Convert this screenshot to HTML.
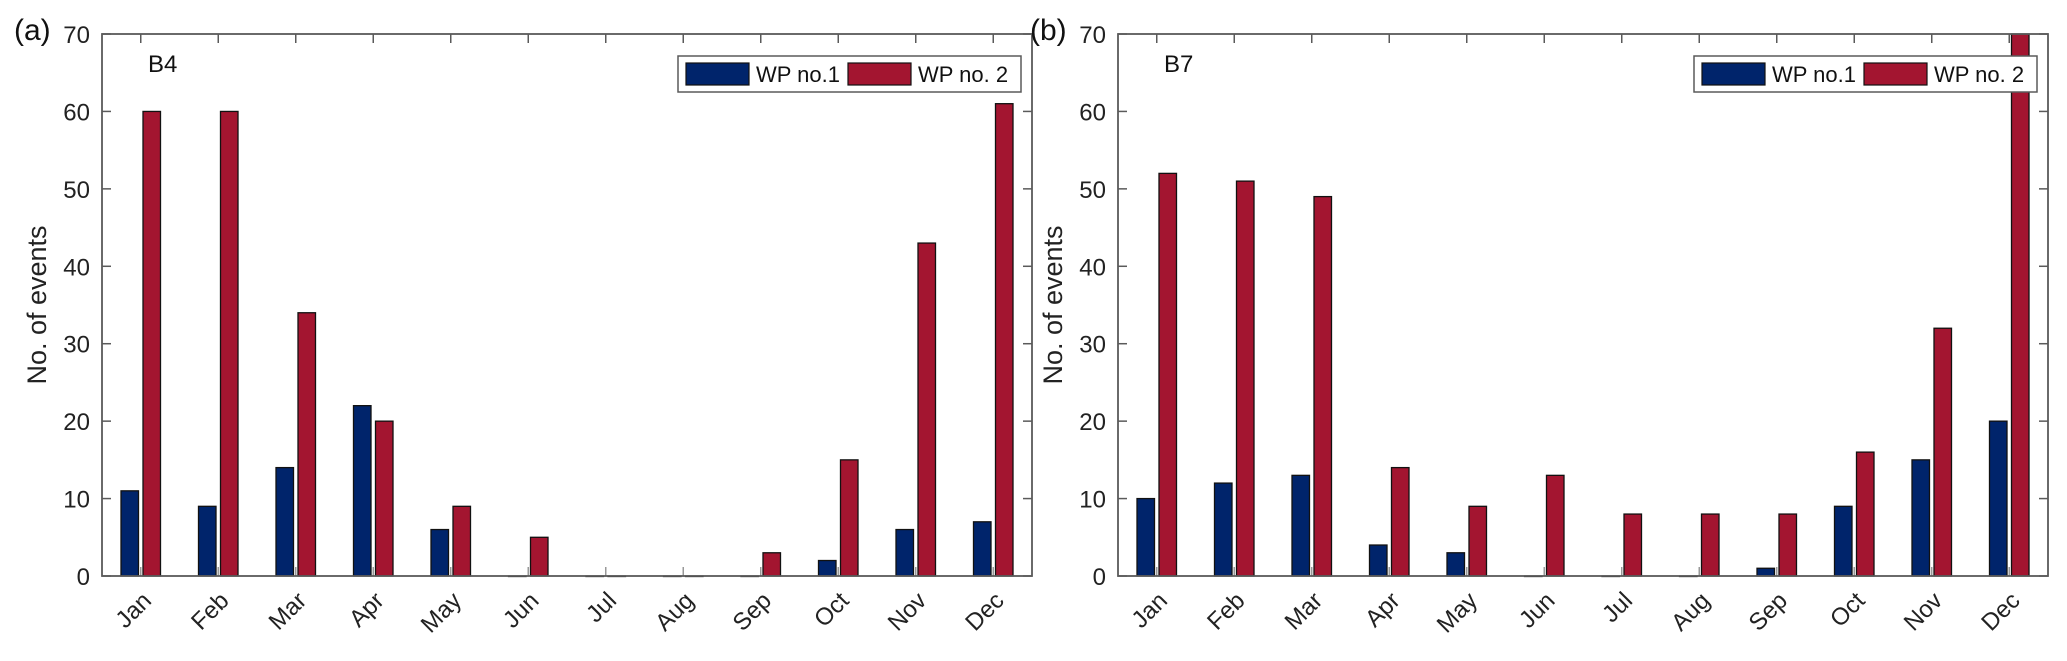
<!DOCTYPE html>
<html><head><meta charset="utf-8"><style>
html,body{margin:0;padding:0;background:#fff;}
svg{display:block;font-family:"Liberation Sans",sans-serif;}
</style></head><body>
<svg id="chart" width="2067" height="661" viewBox="0 0 2067 661" xmlns="http://www.w3.org/2000/svg"></svg>
<script>
const months = ["Jan","Feb","Mar","Apr","May","Jun","Jul","Aug","Sep","Oct","Nov","Dec"];
const b4Wp1 = [11,9,14,22,6,0,0,0,0,2,6,7];
const b4Wp2 = [60,60,34,20,9,5,0,0,3,15,43,61];
const b7Wp1 = [10,12,13,4,3,0,0,0,1,9,15,20];
const b7Wp2 = [52,51,49,14,9,13,8,8,8,16,32,70];
const yTicks = [0,10,20,30,40,50,60,70];
const seriesNames = ["WP no.1","WP no. 2"];

const NS = "http://www.w3.org/2000/svg";
const svg = document.getElementById("chart");
const BLUE = "#00246b", RED = "#a31530", AX = "#5a5a5a";
function mk(tag, attrs, parent){
  const e = document.createElementNS(NS, tag);
  for (const k in attrs) e.setAttribute(k, attrs[k]);
  (parent||svg).appendChild(e);
  return e;
}
function panel(cfg){
  const g = mk("g", {});
  
  
  const L = cfg.left, R = cfg.left + 930, T = 34, B = 576;
  const ymax = 70;
  const yS = v => B - (v / ymax) * (B - T);
  const step = (R - L) / months.length;
  const xS = i => L + step * (i + 0.5);
  const bw = 17.5, off = 11;
  months.forEach((m, i) => {
    [[cfg.s1, BLUE, -off, "wp1"], [cfg.s2, RED, off, "wp2"]].forEach(([arr, col, o, nm]) => {
      const v = arr[i];
      const y = yS(v);
      const r = mk("rect", {x: xS(i) + o - bw/2, y: y, width: bw, height: Math.max(B - y, 0.5), fill: col, stroke: "#111", "stroke-width": 1.3}, g);
      
      
    });
    const t = mk("line", {x1: xS(i), x2: xS(i), y1: B, y2: B - 9, stroke: "#999", "stroke-width": 1.5}, g);
    
    
    mk("line", {x1: xS(i), x2: xS(i), y1: T, y2: T + 9, stroke: AX, "stroke-width": 1.5}, g);
    const lb = mk("text", {x: 0, y: 0, "font-size": 24, fill: "#222", "text-anchor": "end", transform: `translate(${xS(i)+12},${B+26}) rotate(-45)`}, g);
    lb.textContent = m;
    
    
  });
  yTicks.forEach(v => {
    mk("line", {x1: L, x2: L + 9, y1: yS(v), y2: yS(v), stroke: AX, "stroke-width": 1.5}, g);
    mk("line", {x1: R, x2: R - 9, y1: yS(v), y2: yS(v), stroke: AX, "stroke-width": 1.5}, g);
    const t = mk("text", {x: L - 12, y: yS(v) + 9, "font-size": 24, fill: "#222", "text-anchor": "end"}, g);
    t.textContent = v;
    
    
  });
  const box = mk("rect", {x: L, y: T, width: R - L, height: B - T, fill: "none", stroke: AX, "stroke-width": 1.8}, g);
  
  
  const yl = mk("text", {x: 0, y: 0, "font-size": 27, fill: "#222", "text-anchor": "middle", transform: `translate(${L-56},${(T+B)/2}) rotate(-90)`}, g);
  yl.textContent = "No. of events";
  
  
  const pl = mk("text", {x: cfg.left - 88, y: 40, "font-size": 30, fill: "#111"}, g);
  pl.textContent = cfg.letter;
  
  
  const st = mk("text", {x: L + 46, y: 72, "font-size": 24, fill: "#111"}, g);
  st.textContent = cfg.station;
  
  
  const lg = mk("g", {}, g);
  
  
  const lx = R - 354;
  mk("rect", {x: lx, y: 56, width: 343, height: 36, fill: "#fff", stroke: AX, "stroke-width": 1.5}, lg);
  [[BLUE, 8, seriesNames[0]], [RED, 170, seriesNames[1]]].forEach(([c, dx, name]) => {
    const e = mk("g", {}, lg);
    
    
    mk("rect", {x: lx + dx, y: 63, width: 63, height: 22, fill: c, stroke: "#111", "stroke-width": 1.2}, e);
    const tx = mk("text", {x: lx + dx + 70, y: 82, "font-size": 22, fill: "#111"}, e);
    tx.textContent = name;
  });
}
panel({name: "panel-a-b4", left: 102, letter: "(a)", station: "B4", s1: b4Wp1, s2: b4Wp2});
panel({name: "panel-b-b7", left: 1118, letter: "(b)", station: "B7", s1: b7Wp1, s2: b7Wp2});
</script>
</body></html>
